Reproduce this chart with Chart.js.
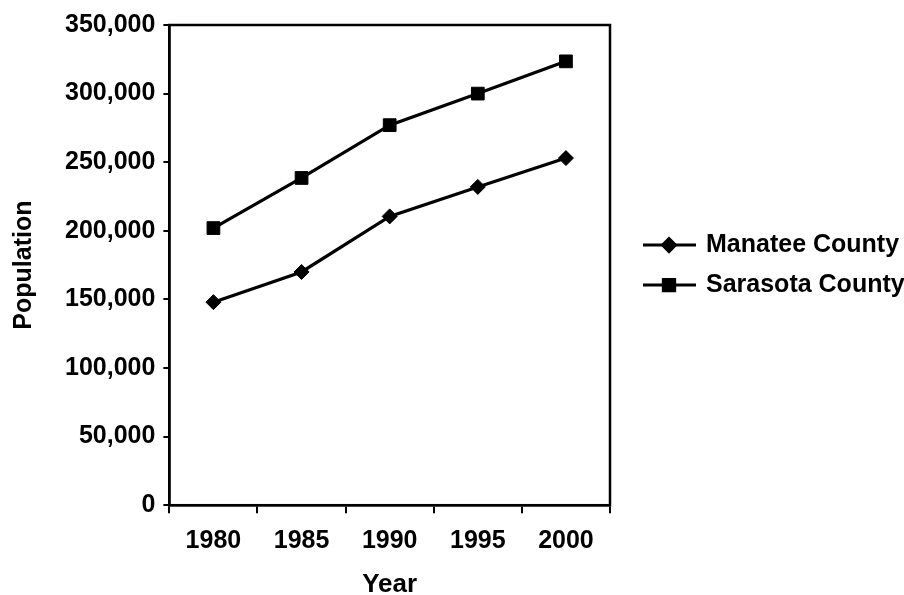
<!DOCTYPE html>
<html>
<head>
<meta charset="utf-8">
<script src="https://cdn.jsdelivr.net/npm/chart.js@4.4.1/dist/chart.umd.min.js"></script>
<style>
  html, body { margin: 0; padding: 0; background: #fff; }
  #wrap { width: 904px; height: 595px; }
</style>
</head>
<body>
<div id="wrap"><canvas id="chart" width="904" height="595"></canvas></div>
<script>
// ── Data ───────────────────────────────────────────────────────────────────
const YEARS = ["1980", "1985", "1990", "1995", "2000"];
const MANATEE = [148000, 170000, 210500, 232000, 253000];
const SARASOTA = [202000, 238500, 277000, 300000, 323500];
const Y_MIN = 0, Y_MAX = 350000, Y_STEP = 50000;

const FONT = "'Liberation Sans', Arial, sans-serif";
const INK = "#000";

// box around the plot area
const frame = {
  id: "frame",
  afterDatasetsDraw(chart) {
    const { ctx, chartArea: a } = chart;
    ctx.save();
    ctx.strokeStyle = INK; ctx.lineWidth = 2.5;
    ctx.strokeRect(a.left, a.top, a.right - a.left, a.bottom - a.top);
    ctx.restore();
  }
};

// legend to the right: short line with the series marker, then the label
const sideLegend = {
  id: "sideLegend",
  afterDraw(chart) {
    const { ctx, chartArea: a } = chart;
    const x0 = a.right + 33, lineLen = 53, rowGap = 40;
    const midY = (a.top + a.bottom) / 2;
    const sets = chart.data.datasets;
    ctx.save();
    sets.forEach((ds, i) => {
      const y = midY + (i - (sets.length - 1) / 2) * rowGap;
      ctx.strokeStyle = INK; ctx.fillStyle = INK; ctx.lineWidth = 3;
      ctx.beginPath(); ctx.moveTo(x0, y); ctx.lineTo(x0 + lineLen, y); ctx.stroke();
      Chart.helpers.drawPoint(ctx, {
        pointStyle: ds.pointStyle, radius: ds.pointRadius - 1, rotation: 0, borderWidth: 1
      }, x0 + 26, y);
      ctx.font = "bold 25px " + FONT;
      ctx.textBaseline = "middle";
      ctx.textAlign = "left";
      ctx.fillText(ds.label, x0 + lineLen + 10, y);
    });
    ctx.restore();
  }
};

new Chart(document.getElementById("chart").getContext("2d"), {
  type: "line",
  data: {
    labels: YEARS,
    datasets: [
      {
        label: "Manatee County",
        data: MANATEE,
        borderColor: INK, backgroundColor: INK,
        borderWidth: 3.2,
        pointStyle: "rectRot", pointRadius: 7.5, pointBorderWidth: 1,
        tension: 0,
      },
      {
        label: "Sarasota County",
        data: SARASOTA,
        borderColor: INK, backgroundColor: INK,
        borderWidth: 3.2,
        pointStyle: "rect", pointRadius: 9, pointBorderWidth: 1,
        tension: 0,
      }
    ]
  },
  options: {
    responsive: false,
    animation: false,
    layout: { padding: { left: 0, right: 294, top: 25, bottom: 0 } },
    scales: {
      x: {
        offset: true,
        grid: { offset: true, drawOnChartArea: false, drawTicks: true, tickLength: 8, color: INK, lineWidth: 2 },
        border: { color: INK, width: 2.5 },
        ticks: { color: INK, padding: 13, font: { family: FONT, size: 25, weight: "bold" } },
        title: { display: true, text: "Year", color: INK, padding: { top: 5, bottom: 0 },
                 font: { family: FONT, size: 26, weight: "bold", lineHeight: 0.8 } }
      },
      y: {
        min: Y_MIN, max: Y_MAX,
        grid: { drawOnChartArea: false, drawTicks: true, tickLength: 6, color: INK, lineWidth: 2 },
        border: { color: INK, width: 2.5 },
        ticks: {
          stepSize: Y_STEP, color: INK, padding: 8,
          font: { family: FONT, size: 25, weight: "bold" },
          callback: v => v.toLocaleString("en-US")
        },
        title: { display: true, text: "Population", color: INK, padding: { top: 9, bottom: 18 },
                 font: { family: FONT, size: 25, weight: "bold" } }
      }
    },
    plugins: {
      legend: { display: false },
      tooltip: { enabled: false }
    }
  },
  plugins: [frame, sideLegend]
});
</script>
</body>
</html>
